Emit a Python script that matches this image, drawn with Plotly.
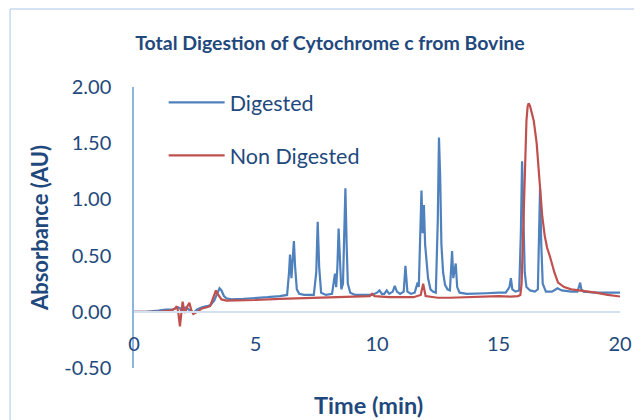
import plotly.graph_objects as go

# ---- Data ----
dig_time = [0.0, 0.5, 1.0, 1.3, 1.6, 1.8, 1.9, 1.97, 2.05, 2.15, 2.3, 2.45, 2.6, 2.8, 3.0, 3.15,
            3.3, 3.42, 3.52, 3.6, 3.7, 3.8, 4.0, 4.5, 5.0, 5.5, 6.0, 6.3, 6.38, 6.42, 6.48, 6.53,
            6.58, 6.63, 6.7, 6.8, 7.0, 7.4, 7.5, 7.56, 7.62, 7.7, 7.9, 8.15, 8.22, 8.27, 8.32,
            8.37, 8.42, 8.47, 8.53, 8.6, 8.66, 8.7, 8.75, 8.8, 8.9, 9.1, 9.5, 9.8, 10.0, 10.1,
            10.2, 10.3, 10.4, 10.5, 10.65, 10.73, 10.82, 10.95, 11.1, 11.17, 11.25, 11.4, 11.55,
            11.62, 11.67, 11.72, 11.78, 11.83, 11.88, 11.93, 11.98, 12.03, 12.1, 12.2, 12.3,
            12.42, 12.5, 12.55, 12.6, 12.65, 12.72, 12.8, 12.9, 13.0, 13.05, 13.09, 13.14, 13.19,
            13.24, 13.3, 13.4, 13.7, 14.0, 14.5, 15.0, 15.3, 15.45, 15.51, 15.57, 15.7, 15.85,
            15.92, 15.97, 16.02, 16.08, 16.15, 16.3, 16.5, 16.62, 16.67, 16.71, 16.76, 16.82,
            16.95, 17.2, 17.43, 17.6, 18.0, 18.25, 18.32, 18.36, 18.41, 18.5, 19.0, 19.5, 20.0]
dig_abs = [0.0, 0.0, 0.01, 0.02, 0.02, 0.04, 0.03, 0.0, 0.03, 0.04, 0.01, -0.01, 0.02, 0.04, 0.05, 0.06,
           0.10, 0.17, 0.21, 0.19, 0.14, 0.12, 0.11, 0.115, 0.12, 0.13, 0.14, 0.15, 0.35, 0.51, 0.30, 0.45,
           0.63, 0.40, 0.20, 0.16, 0.15, 0.15, 0.35, 0.80, 0.40, 0.17, 0.15, 0.16, 0.25, 0.34, 0.22,
           0.40, 0.74, 0.40, 0.20, 0.25, 0.70, 1.10, 0.60, 0.25, 0.17, 0.15, 0.15, 0.15, 0.17, 0.19,
           0.16, 0.16, 0.19, 0.16, 0.18, 0.23, 0.18, 0.16, 0.18, 0.41, 0.18, 0.16, 0.17,
           0.22, 0.26, 0.22, 0.60, 1.08, 0.70, 0.95, 0.60, 0.45, 0.30, 0.20, 0.18,
           0.17, 0.80, 1.55, 1.20, 0.60, 0.35, 0.24, 0.20, 0.19, 0.35, 0.54, 0.30, 0.35,
           0.43, 0.22, 0.17, 0.16, 0.16, 0.165, 0.17, 0.17, 0.22, 0.30, 0.20, 0.18, 0.19,
           0.70, 1.34, 0.80, 0.35, 0.22, 0.19, 0.18, 0.20, 0.70, 1.10, 0.60, 0.25,
           0.18, 0.18, 0.21, 0.19, 0.18, 0.18, 0.23, 0.26, 0.20, 0.18, 0.17, 0.17, 0.17]

non_time = [0.0, 0.5, 1.0, 1.5, 1.7, 1.76, 1.82, 1.89, 1.95, 2.0, 2.06, 2.1, 2.2, 2.28, 2.35, 2.44,
            2.6, 2.8, 3.0, 3.13, 3.25, 3.37, 3.47, 3.6, 3.8, 4.0, 5.0, 6.0, 7.0, 8.0, 9.0, 9.7,
            9.8, 9.9, 10.5, 11.5, 11.8, 11.9, 12.0, 12.5, 13.0, 14.0, 15.0, 15.5, 15.8, 15.9,
            15.95, 16.0, 16.05, 16.1, 16.15, 16.2, 16.24, 16.3, 16.37, 16.45, 16.57, 16.65,
            16.71, 16.8, 16.9, 17.0, 17.12, 17.3, 17.45, 17.7, 18.0, 18.35, 19.0, 19.5, 20.0]
non_abs = [0.0, 0.0, 0.0, 0.01, 0.03, 0.05, 0.0, -0.13, 0.0, 0.09, 0.02, -0.01, 0.05, 0.08, 0.02, -0.02,
           0.0, 0.03, 0.04, 0.05, 0.12, 0.19, 0.15, 0.11, 0.10, 0.10, 0.105, 0.115, 0.12, 0.13, 0.13, 0.14,
           0.16, 0.14, 0.13, 0.13, 0.15, 0.25, 0.14, 0.125, 0.125, 0.13, 0.14, 0.135, 0.14, 0.15,
           0.25, 0.60, 1.00, 1.40, 1.70, 1.83, 1.855, 1.83, 1.78, 1.70, 1.50, 1.25,
           1.05, 0.85, 0.68, 0.57, 0.49, 0.35, 0.26, 0.22, 0.20, 0.19, 0.17, 0.15, 0.136]

x_ticks = [0, 5, 10, 15, 20]
y_ticks = [-0.5, 0.0, 0.5, 1.0, 1.5, 2.0]
y_tick_labels = ["-0.50", "0.00", "0.50", "1.00", "1.50", "2.00"]

TEXT = "#1F497D"
FONT = "Lato"

fig = go.Figure()
fig.add_trace(go.Scatter(x=dig_time, y=dig_abs, mode="lines", name="Digested",
                         line=dict(color="#4F81BD", width=2.2), legendgroup="a"))
fig.add_trace(go.Scatter(x=non_time, y=non_abs, mode="lines", name="Non Digested",
                         line=dict(color="#C0504D", width=2.2), legendgroup="b"))

fig.update_layout(
    width=642, height=420,
    margin=dict(l=126, r=30, t=79, b=60, autoexpand=False),
    paper_bgcolor="white", plot_bgcolor="white",
    font=dict(family=FONT, size=20, color=TEXT),
    title=dict(text="<b>Total Digestion of Cytochrome c from Bovine</b>",
               x=322 / 642, xanchor="center", y=1 - 35 / 420, yanchor="middle",
               font=dict(family=FONT, size=19.5, color=TEXT)),
    legend=dict(x=0.061, y=1.018, xanchor="left", yanchor="top",
                bgcolor="rgba(0,0,0,0)", tracegroupgap=22, itemwidth=56,
                font=dict(family=FONT, size=21.5, color=TEXT)),
    showlegend=True,
    shapes=[
        dict(type="line", xref="paper", yref="paper", x0=-0.255, x1=-0.255, y0=-1, y1=1.2776,
             line=dict(color="#C6D9F1", width=1.5)),
        dict(type="line", xref="paper", yref="paper", x0=-0.255, x1=2, y0=1.2776, y1=1.2776,
             line=dict(color="#C6D9F1", width=1.5)),
    ],
    annotations=[
        dict(text="<b>Time (min)</b>", xref="paper", yref="paper", x=0.4815, y=-0.1317,
             xanchor="center", yanchor="middle", showarrow=False,
             font=dict(family=FONT, size=23.5, color=TEXT)),
    ],
)

fig.update_xaxes(range=[0, 20], tickvals=x_ticks, showgrid=False, zeroline=False,
                 anchor="free", position=0.2, showline=True, linecolor="#D5E0EF", linewidth=2,
                 ticks="", ticklabelstandoff=14,
                 tickfont=dict(family=FONT, size=20, color=TEXT))
fig.update_yaxes(range=[-0.5, 2.0], tickvals=y_ticks, ticktext=y_tick_labels, showgrid=False,
                 zeroline=False, showline=True, linecolor="#8DB4E2", linewidth=1.5,
                 ticks="", ticklabelstandoff=17,
                 tickfont=dict(family=FONT, size=20, color=TEXT),
                 title=dict(text="<b>Absorbance (AU)</b>", standoff=10,
                            font=dict(family=FONT, size=22, color=TEXT)))

fig.write_html("out.html")
